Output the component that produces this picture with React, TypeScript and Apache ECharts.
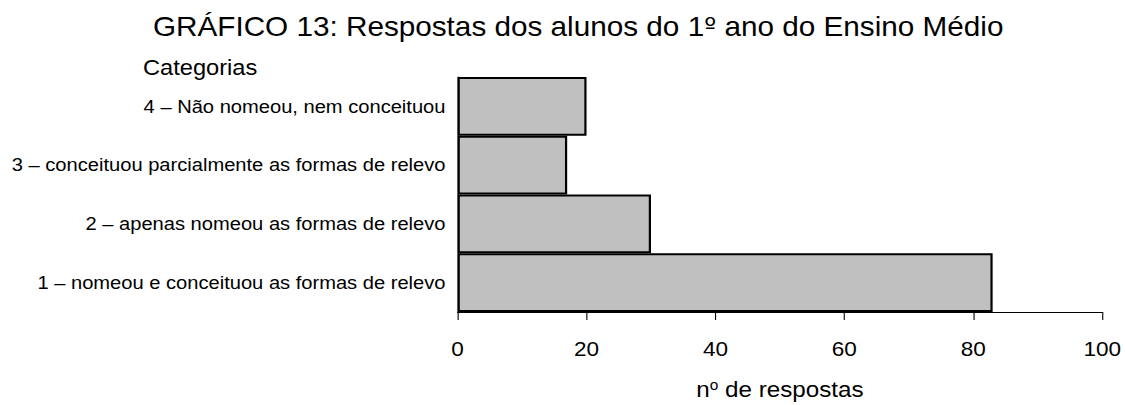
import React, { useEffect, useRef } from "react";
import * as echarts from "echarts";

// Response categories, bottom to top on the vertical axis
const categories: string[] = [
  "1 – nomeou e conceituou as formas de relevo",
  "2 – apenas nomeou as formas de relevo",
  "3 – conceituou parcialmente as formas de relevo",
  "4 – Não nomeou, nem conceituou",
];

// Number of answers for each category
const responses: number[] = [83, 30, 17, 20];

// Title with the ordinal sign kept as its own rich-text token
const titleText = "GRÁFICO 13: Respostas dos alunos do 1{o|º} ano do Ensino Médio";
const yAxisTitle = "Categorias";
const xAxisTitle = "n{s|o} de respostas";

// The drawing is laid out slightly narrower and widened horizontally
const STRETCH = 1.1;
const FULL_W = 1125;
const FULL_H = 405;
const INNER_W = Math.round(FULL_W / STRETCH);

const FONT = '"Liberation Sans", Arial, Helvetica, sans-serif';

export default function App() {
  const ref = useRef<HTMLDivElement>(null);

  useEffect(() => {
    if (!ref.current) return;
    const chart = echarts.init(ref.current, undefined, { renderer: "svg" });
    chart.setOption({
      animation: false,
      backgroundColor: "#ffffff",
      textStyle: { fontFamily: FONT, color: "#000" },
      title: {
        text: titleText,
        left: 134,
        top: 8,
        textStyle: {
          fontFamily: FONT,
          fontSize: 27,
          fontWeight: "normal",
          color: "#000",
          rich: {
            o: { fontFamily: '"DejaVu Sans", sans-serif', fontSize: 23, color: "#000" },
          },
        },
      },
      graphic: [
        {
          type: "text",
          left: 130,
          top: 57,
          style: { text: yAxisTitle, font: `21.5px ${FONT}`, fill: "#000" },
        },
      ],
      grid: { left: 416, right: 21, top: 77, bottom: 89, containLabel: false },
      xAxis: {
        type: "value",
        min: 0,
        max: 100,
        interval: 20,
        name: xAxisTitle,
        nameLocation: "middle",
        nameGap: 66,
        nameTextStyle: {
          fontFamily: FONT,
          fontSize: 22,
          color: "#000",
          rich: {
            s: { fontFamily: FONT, fontSize: 14, verticalAlign: "top", color: "#000" },
          },
        },
        axisLine: { show: true, lineStyle: { color: "#000", width: 1 } },
        axisTick: { show: true, length: 8, lineStyle: { color: "#000", width: 1 } },
        axisLabel: { fontFamily: FONT, fontSize: 20.5, color: "#000", margin: 27 },
        splitLine: { show: false },
      },
      yAxis: {
        type: "category",
        data: categories,
        axisLine: { show: true, lineStyle: { color: "#000", width: 1 } },
        axisTick: { show: false },
        axisLabel: { fontFamily: FONT, fontSize: 18.3, color: "#000", margin: 11 },
        splitLine: { show: false },
      },
      series: [
        {
          type: "bar",
          data: responses,
          barCategoryGap: "0%",
          itemStyle: { color: "#c0c0c0", borderColor: "#000", borderWidth: 2 },
        },
      ],
    });
    return () => chart.dispose();
  }, []);

  return (
    <div
      style={{
        position: "absolute",
        left: 0,
        top: 0,
        width: FULL_W,
        height: FULL_H,
        overflow: "hidden",
        background: "#fff",
      }}
    >
      <div
        ref={ref}
        style={{
          width: INNER_W,
          height: FULL_H,
          transform: `scaleX(${STRETCH})`,
          transformOrigin: "0 0",
        }}
      />
    </div>
  );
}
